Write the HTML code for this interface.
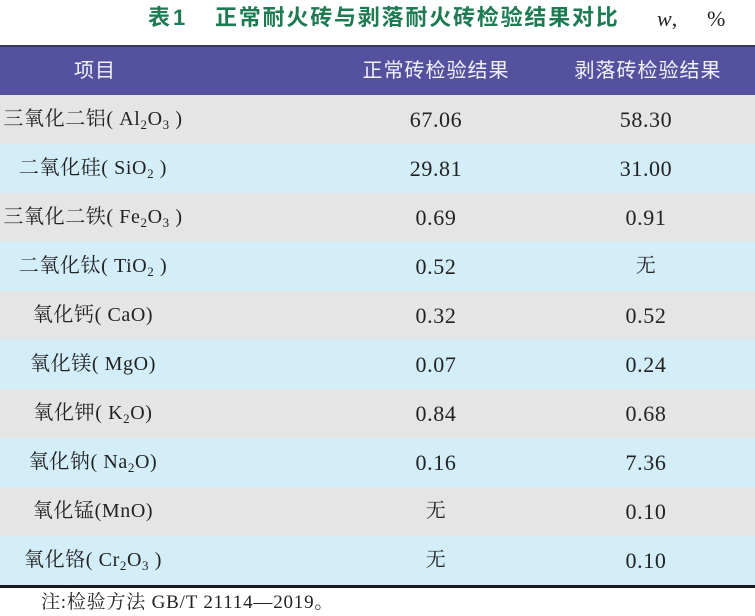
<!DOCTYPE html>
<html><head><meta charset="utf-8">
<style>
html,body{margin:0;padding:0;}
body{width:755px;height:616px;position:relative;background:#fff;overflow:hidden;}
.title{position:absolute;top:4px;left:148px;height:28px;line-height:28px;font-family:"Liberation Sans","Noto Sans CJK SC",sans-serif;font-weight:bold;font-size:22px;color:#1d7a52;white-space:nowrap;}
.title .t1{letter-spacing:3px;}
.title .t2{position:absolute;left:67px;top:0;letter-spacing:1.8px;}
.unit{position:absolute;top:5px;height:28px;line-height:28px;font-family:"Liberation Serif",serif;font-size:22px;color:#222;white-space:nowrap;}
.hdr{position:absolute;left:0;top:45px;width:755px;height:50px;background:#54529f;border-top:2px solid #3b3a5e;box-sizing:border-box;}
.hdr div{position:absolute;top:0;height:48px;line-height:48px;font-family:"Liberation Sans","Noto Sans CJK SC",sans-serif;font-size:20px;color:#f2f2f7;text-align:center;white-space:nowrap;letter-spacing:1px;}
.row{position:absolute;left:0;width:755px;height:49px;}
.g{background:#e5e5e5;}
.b{background:#d3edf9;}
.row div{position:absolute;top:0;height:49px;line-height:49px;text-align:center;white-space:nowrap;color:#222;}
.c1{left:-7px;width:200px;font-family:"Liberation Serif","Noto Serif CJK SC",serif;font-size:20px;letter-spacing:0.6px;}
.c2{left:336px;width:200px;font-family:"Liberation Serif","Noto Serif CJK SC",serif;font-size:22px;letter-spacing:0.6px;}
.c3{left:546px;width:200px;font-family:"Liberation Serif","Noto Serif CJK SC",serif;font-size:22px;letter-spacing:0.6px;}
.c2.cj,.c3.cj{font-size:20px;}
sub{font-size:13px;vertical-align:-4px;line-height:0;}
.line{position:absolute;left:0;top:585px;width:755px;height:3px;background:#1a1a1a;}
.note{position:absolute;left:41px;top:591px;height:24px;line-height:24px;font-family:"Liberation Serif","Noto Serif CJK SC",serif;font-size:19px;letter-spacing:0.8px;color:#222;white-space:nowrap;}
</style></head><body>
<div class="title"><span class="t1">表1</span><span class="t2">正常耐火砖与剥落耐火砖检验结果对比</span></div>
<div class="unit" style="left:657px;"><i>w</i>,</div>
<div class="unit" style="left:707px;">%</div>
<div class="hdr">
  <div style="left:0;width:190px;">项目</div>
  <div style="left:336px;width:200px;">正常砖检验结果</div>
  <div style="left:548px;width:200px;">剥落砖检验结果</div>
</div>
<div class="row g" style="top:95px"><div class="c1">三氧化二铝( Al<sub>2</sub>O<sub>3</sub> )</div><div class="c2">67.06</div><div class="c3">58.30</div></div>
<div class="row b" style="top:144px"><div class="c1">二氧化硅( SiO<sub>2</sub> )</div><div class="c2">29.81</div><div class="c3">31.00</div></div>
<div class="row g" style="top:193px"><div class="c1">三氧化二铁( Fe<sub>2</sub>O<sub>3</sub> )</div><div class="c2">0.69</div><div class="c3">0.91</div></div>
<div class="row b" style="top:242px"><div class="c1">二氧化钛( TiO<sub>2</sub> )</div><div class="c2">0.52</div><div class="c3 cj">无</div></div>
<div class="row g" style="top:291px"><div class="c1">氧化钙( CaO)</div><div class="c2">0.32</div><div class="c3">0.52</div></div>
<div class="row b" style="top:340px"><div class="c1">氧化镁( MgO)</div><div class="c2">0.07</div><div class="c3">0.24</div></div>
<div class="row g" style="top:389px"><div class="c1">氧化钾( K<sub>2</sub>O)</div><div class="c2">0.84</div><div class="c3">0.68</div></div>
<div class="row b" style="top:438px"><div class="c1">氧化钠( Na<sub>2</sub>O)</div><div class="c2">0.16</div><div class="c3">7.36</div></div>
<div class="row g" style="top:487px"><div class="c1">氧化锰(MnO)</div><div class="c2 cj">无</div><div class="c3">0.10</div></div>
<div class="row b" style="top:536px"><div class="c1">氧化铬( Cr<sub>2</sub>O<sub>3</sub> )</div><div class="c2 cj">无</div><div class="c3">0.10</div></div>
<div class="line"></div>
<div class="note">注:检验方法 GB/T 21114—2019。</div>
</body></html>
